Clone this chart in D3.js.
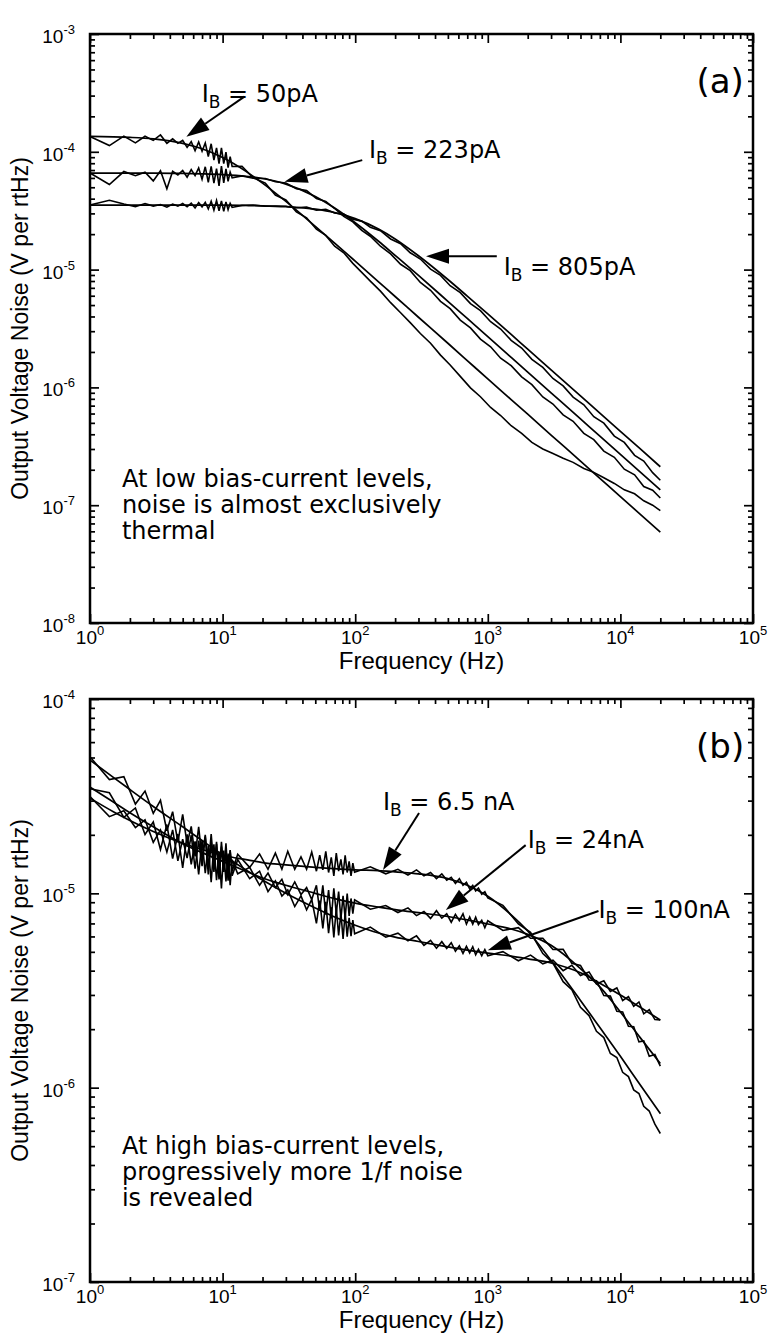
<!DOCTYPE html>
<html>
<head>
<meta charset="utf-8">
<script src="https://cdn.jsdelivr.net/npm/d3@7/dist/d3.min.js"></script>
<style>
html,body{margin:0;padding:0;background:#fff;}
svg{display:block;}
</style>
</head>
<body>
<svg id="chart" width="771" height="1337"></svg>
<script>
// ---------------- DATA ----------------
const xTickExps = [0, 1, 2, 3, 4, 5];
const yTickExpsA = [-8, -7, -6, -5, -4, -3];
const yTickExpsB = [-7, -6, -5, -4];

// Panel (a): measured spectra (Hz, V/rtHz)
const freqA = [1,1.4,1.8,2.2,2.6,3,3.4,3.8,4.2,4.6,5,5.4,5.8,6.2,6.6,7,7.4,7.8,8.2,8.6,9,9.4,9.8,10.2,10.6,11,11.4,11.8,
  14,17,21,25,30,36,43,51,60,70,82,96,
  112,130,155,185,220,260,310,370,440,520,620,740,880,
  1050,1250,1500,1800,2150,2600,3100,3700,4400,5300,6300,7500,9000,10700,12800,15000,17500,20000];
const noisyA50 = [1.35e-4,1.13e-4,1.36e-4,1.19e-4,1.355e-4,1.25e-4,1.39e-4,1.18e-4,1.29e-4,1.18e-4,1.25e-4,1.09e-4,1.22e-4,1.02e-4,1.21e-4,1.01e-4,1.19e-4,9.12e-5,1.17e-4,8.51e-5,1.08e-4,7.95e-5,1.08e-4,7.95e-5,9.92e-5,7.34e-5,9.08e-5,7.51e-5,
  7.54e-5,6.01e-5,5.42e-5,4.29e-5,3.90e-5,3.09e-5,2.75e-5,2.20e-5,1.95e-5,1.58e-5,1.39e-5,1.13e-5,
  9.48e-6,7.99e-6,6.56e-6,5.24e-6,4.30e-6,3.55e-6,2.87e-6,2.37e-6,1.88e-6,1.55e-6,1.24e-6,9.91e-7,8.33e-7,
  6.76e-7,5.77e-7,4.73e-7,4.07e-7,3.41e-7,3.00e-7,2.75e-7,2.50e-7,2.31e-7,2.05e-7,1.90e-7,1.71e-7,1.53e-7,1.35e-7,1.25e-7,1.09e-7,1.00e-7,9.0e-8];
const noisyA223 = [6.60e-5,5.28e-5,6.80e-5,6.26e-5,6.72e-5,5.66e-5,6.91e-5,4.86e-5,6.83e-5,6.36e-5,6.94e-5,6.08e-5,7.05e-5,6.27e-5,7.30e-5,5.85e-5,7.46e-5,5.51e-5,7.51e-5,5.43e-5,7.21e-5,5.14e-5,7.56e-5,5.44e-5,7.15e-5,5.61e-5,6.73e-5,6.02e-5,
  6.24e-5,5.97e-5,5.93e-5,5.57e-5,5.43e-5,4.85e-5,4.69e-5,4.01e-5,3.79e-5,3.30e-5,2.83e-5,2.54e-5,
  2.15e-5,1.92e-5,1.58e-5,1.36e-5,1.11e-5,9.79e-6,7.77e-6,6.67e-6,5.38e-6,4.66e-6,3.73e-6,3.20e-6,2.57e-6,
  2.21e-6,1.77e-6,1.53e-6,1.23e-6,1.055e-6,8.30e-7,7.23e-7,5.84e-7,5.16e-7,4.07e-7,3.60e-7,2.88e-7,2.55e-7,2.02e-7,1.81e-7,1.44e-7,1.34e-7,1.15e-7];
const noisyA805 = [3.53e-5,3.88e-5,3.60e-5,3.42e-5,3.64e-5,3.46e-5,3.57e-5,3.39e-5,3.60e-5,3.46e-5,3.64e-5,3.41e-5,3.66e-5,3.34e-5,3.70e-5,3.41e-5,3.73e-5,3.27e-5,3.80e-5,3.20e-5,3.86e-5,3.16e-5,3.83e-5,3.12e-5,3.76e-5,3.23e-5,3.65e-5,3.37e-5,
  3.51e-5,3.53e-5,3.45e-5,3.46e-5,3.45e-5,3.35e-5,3.39e-5,3.19e-5,3.25e-5,3.02e-5,2.97e-5,2.68e-5,
  2.58e-5,2.29e-5,2.14e-5,1.82e-5,1.66e-5,1.39e-5,1.23e-5,1.01e-5,8.92e-6,7.30e-6,6.37e-6,5.14e-6,4.48e-6,
  3.61e-6,3.13e-6,2.51e-6,2.16e-6,1.73e-6,1.48e-6,1.19e-6,1.03e-6,8.28e-7,7.11e-7,5.64e-7,4.97e-7,3.86e-7,3.41e-7,2.65e-7,2.37e-7,1.89e-7,1.63e-7];

// Panel (a): fitted curves
const fitFreqA = [1,2,3,5,7,10,15,20,30,50,70,100,150,200,300,500,700,1000,1500,2000,3000,5000,7000,10000,14000,20000];
const fitA50 = [1.351e-4,1.325e-4,1.286e-4,1.179e-4,1.06e-4,8.93e-5,6.82e-5,5.42e-5,3.79e-5,2.33e-5,1.68e-5,1.18e-5,7.87e-6,5.91e-6,3.94e-6,2.37e-6,1.69e-6,1.18e-6,7.89e-7,5.92e-7,3.94e-7,2.37e-7,1.69e-7,1.18e-7,8.45e-8,5.92e-8];
const fitA223 = [6.6e-5,6.6e-5,6.58e-5,6.55e-5,6.50e-5,6.41e-5,6.20e-5,5.93e-5,5.32e-5,4.18e-5,3.33e-5,2.50e-5,1.74e-5,1.32e-5,8.92e-6,5.38e-6,3.85e-6,2.70e-6,1.80e-6,1.35e-6,9.0e-7,5.4e-7,3.86e-7,2.70e-7,1.93e-7,1.35e-7];
const fitA805 = [3.53e-5,3.53e-5,3.53e-5,3.53e-5,3.52e-5,3.52e-5,3.50e-5,3.48e-5,3.42e-5,3.26e-5,3.05e-5,2.71e-5,2.21e-5,1.82e-5,1.31e-5,8.24e-6,5.96e-6,4.21e-6,2.82e-6,2.11e-6,1.41e-6,8.47e-7,6.05e-7,4.24e-7,3.03e-7,2.12e-7];

// Panel (b): measured spectra
const freqB = [1,1.4,1.8,2.2,2.6,3,3.4,3.8,4.2,4.6,5,5.4,5.8,6.2,6.6,7,7.4,7.8,8.2,8.6,9,9.4,9.8,10.2,10.6,11,11.4,11.8,
  13,16,19,22,25,28,31,35,39,43,47,
  51,54,57,60,63,66,69,72,75,78,81,84,87,90,93,96,99,
  130,170,210,250,290,330,370,410,450,490,530,570,610,650,690,730,770,810,850,900,950,1000,
  1300,1700,2100,2600,3100,3700,4300,5000,5800,6600,7500,8400,9400,10400,11500,12600,13800,15000,16500,18200,20000];
const noisyB65 = [3.15e-5,2.48e-5,2.66e-5,2.18e-5,2.39e-5,1.83e-5,2.12e-5,1.63e-5,2.12e-5,1.47e-5,1.90e-5,1.52e-5,1.99e-5,1.34e-5,1.87e-5,1.38e-5,1.96e-5,1.25e-5,1.83e-5,1.29e-5,1.84e-5,1.18e-5,1.74e-5,1.29e-5,1.81e-5,1.21e-5,1.66e-5,1.30e-5,
  1.59e-5,1.36e-5,1.595e-5,1.33e-5,1.61e-5,1.33e-5,1.645e-5,1.33e-5,1.54e-5,1.33e-5,1.63e-5,
  1.30e-5,1.57e-5,1.32e-5,1.645e-5,1.28e-5,1.53e-5,1.23e-5,1.61e-5,1.30e-5,1.495e-5,1.25e-5,1.57e-5,1.28e-5,1.46e-5,1.23e-5,1.43e-5,1.285e-5,
  1.37e-5,1.26e-5,1.33e-5,1.24e-5,1.32e-5,1.23e-5,1.28e-5,1.19e-5,1.26e-5,1.17e-5,1.21e-5,1.125e-5,1.19e-5,1.10e-5,1.14e-5,1.055e-5,1.10e-5,1.03e-5,1.064e-5,9.9e-6,1.02e-5,9.47e-6,
  8.68e-6,6.96e-6,6.30e-6,4.90e-6,4.38e-6,3.51e-6,3.19e-6,2.59e-6,2.35e-6,1.95e-6,1.81e-6,1.50e-6,1.43e-6,1.20e-6,1.14e-6,9.74e-7,9.33e-7,8.02e-7,7.58e-7,6.49e-7,5.81e-7];
const noisyB24 = [3.45e-5,3.29e-5,2.46e-5,2.75e-5,2.01e-5,2.33e-5,1.68e-5,2.26e-5,1.51e-5,2.02e-5,1.35e-5,2.01e-5,1.41e-5,1.85e-5,1.25e-5,1.88e-5,1.27e-5,1.76e-5,1.14e-5,1.79e-5,1.17e-5,1.64e-5,1.06e-5,1.66e-5,1.15e-5,1.60e-5,1.10e-5,1.49e-5,
  1.26e-5,1.36e-5,1.10e-5,1.27e-5,1.07e-5,1.18e-5,9.86e-6,1.145e-5,9.87e-6,1.07e-5,9.29e-6,
  1.10e-5,8.12e-6,1.10e-5,7.76e-6,1.04e-5,7.43e-6,1.06e-5,7.85e-6,1.02e-5,7.38e-6,9.70e-6,7.46e-6,9.96e-6,7.65e-6,9.41e-6,7.86e-6,9.26e-6,
  8.28e-6,8.65e-6,7.97e-6,8.42e-6,7.68e-6,8.06e-6,7.43e-6,8.14e-6,7.45e-6,7.84e-6,7.10e-6,7.80e-6,7.23e-6,7.84e-6,6.94e-6,7.56e-6,6.93e-6,7.53e-6,6.91e-6,7.27e-6,6.65e-6,7.23e-6,
  6.44e-6,6.66e-6,5.87e-6,5.87e-6,5.14e-6,5.15e-6,4.37e-6,4.26e-6,3.58e-6,3.55e-6,2.98e-6,2.96e-6,2.47e-6,2.45e-6,2.07e-6,2.06e-6,1.72e-6,1.74e-6,1.45e-6,1.48e-6,1.29e-6];
const noisyB100 = [5.04e-5,3.85e-5,3.98e-5,2.88e-5,3.36e-5,2.58e-5,3.01e-5,2.10e-5,2.63e-5,1.83e-5,2.55e-5,1.80e-5,2.21e-5,1.55e-5,2.20e-5,1.50e-5,2.0e-5,1.35e-5,2.02e-5,1.36e-5,1.80e-5,1.21e-5,1.84e-5,1.29e-5,1.64e-5,1.16e-5,1.67e-5,1.23e-5,
  1.49e-5,1.19e-5,1.30e-5,1.02e-5,1.16e-5,9.68e-6,1.04e-5,8.55e-6,9.70e-6,8.23e-6,9.29e-6,
  7.01e-6,9.18e-6,6.60e-6,9.03e-6,6.24e-6,8.47e-6,5.93e-6,8.40e-6,6.08e-6,7.93e-6,5.82e-6,7.92e-6,5.99e-6,7.49e-6,6.02e-6,7.29e-6,6.19e-6,
  6.70e-6,5.95e-6,6.24e-6,5.70e-6,6.04e-6,5.40e-6,5.73e-6,5.22e-6,5.64e-6,5.20e-6,5.57e-6,5.04e-6,5.37e-6,4.91e-6,5.34e-6,4.94e-6,5.31e-6,4.83e-6,5.15e-6,4.77e-6,5.14e-6,4.77e-6,
  5.01e-6,4.50e-6,4.81e-6,4.34e-6,4.53e-6,4.0e-6,4.26e-6,3.78e-6,3.94e-6,3.42e-6,3.55e-6,3.13e-6,3.26e-6,2.81e-6,2.94e-6,2.62e-6,2.76e-6,2.40e-6,2.52e-6,2.24e-6,2.23e-6];

// Panel (b): fitted curves
const fitFreqB = [1,1.5,2,3,5,7,10,15,20,30,50,70,100,150,200,300,500,700,1000,1500,2000,3000,5000,7000,10000,14000,20000];
const fitB65 = [3.09e-5,2.63e-5,2.37e-5,2.08e-5,1.81e-5,1.68e-5,1.57e-5,1.49e-5,1.44e-5,1.40e-5,1.36e-5,1.34e-5,1.32e-5,1.31e-5,1.29e-5,1.26e-5,1.19e-5,1.10e-5,9.66e-6,7.75e-6,6.40e-6,4.51e-6,2.81e-6,2.04e-6,1.45e-6,1.04e-6,7.35e-7];
const fitB24 = [3.52e-5,2.95e-5,2.6e-5,2.2e-5,1.8e-5,1.62e-5,1.46e-5,1.3e-5,1.2e-5,1.1e-5,1.0e-5,9.4e-6,8.9e-6,8.5e-6,8.25e-6,7.95e-6,7.6e-6,7.3e-6,6.95e-6,6.55e-6,6.15e-6,5.4e-6,4.1e-6,3.3e-6,2.45e-6,1.82e-6,1.33e-6];
const fitB100 = [4.85e-5,3.95e-5,3.42e-5,2.8e-5,2.2e-5,1.87e-5,1.58e-5,1.32e-5,1.17e-5,1.0e-5,8.4e-6,7.55e-6,6.85e-6,6.25e-6,5.95e-6,5.65e-6,5.3e-6,5.1e-6,4.92e-6,4.75e-6,4.6e-6,4.38e-6,3.9e-6,3.45e-6,3.0e-6,2.6e-6,2.23e-6];

// Annotations, placed in data units (frequency, voltage)
const annA = [
  {rest:" = 50pA",  at:[6.95,2.65e-4], from:[14.6,2.94e-4], to:[5.33,1.34e-4]},
  {rest:" = 223pA", at:[127,8.8e-5],   from:[113,8.5e-5],   to:[29.3,5.57e-5]},
  {rest:" = 805pA", at:[1319,9.0e-6],  from:[1169,1.30e-5], to:[342,1.30e-5]}
];
const annB = [
  {rest:" = 6.5 nA", at:[162,2.69e-5],  from:[303,2.59e-5],  to:[162,1.32e-5]},
  {rest:" = 24nA",   at:[2000,1.71e-5], from:[1930,1.77e-5], to:[483,8.2e-6]},
  {rest:" = 100nA",  at:[6835,7.46e-6], from:[6835,8.11e-6], to:[1000,5.1e-6]}
];
const noteA = ["At low bias-current levels,", "noise is almost exclusively", "thermal"];
const noteB = ["At high bias-current levels,", "progressively more 1/f noise", "is revealed"];
const xTitle = "Frequency (Hz)";
const yTitle = "Output Voltage Noise (V per rtHz)";

// ---------------- DRAWING ----------------
const FONT_AX = '"Liberation Sans", Arial, Helvetica, sans-serif';
const FONT_AN = '"DejaVu Sans", "Open Sans", sans-serif';
const svg = d3.select("#chart");

const panels = [
  {x0:90, x1:753, y0:34, y1:623, yDom:[1e-8,1e-3], yExps:yTickExpsA, tag:"(a)", tagAt:[5.65e4,3.16e-4],
   meas:[[freqA,noisyA50],[freqA,noisyA223],[freqA,noisyA805]],
   fits:[[fitFreqA,fitA50],[fitFreqA,fitA223],[fitFreqA,fitA805]],
   ann:annA, note:noteA, noteAt:[1.74,1.43e-7]},
  {x0:90, x1:753, y0:699, y1:1282, yDom:[1e-7,1e-4], yExps:yTickExpsB, tag:"(b)", tagAt:[5.65e4,4.97e-5],
   meas:[[freqB,noisyB65],[freqB,noisyB24],[freqB,noisyB100]],
   fits:[[fitFreqB,fitB65],[fitFreqB,fitB24],[fitFreqB,fitB100]],
   ann:annB, note:noteB, noteAt:[1.74,4.55e-7]}
];

function drawPanel(p){
  const x = d3.scaleLog().domain([1,1e5]).range([p.x0,p.x1]);
  const y = d3.scaleLog().domain(p.yDom).range([p.y1,p.y0]);
  const g = svg.append("g");

  const majX = xTickExps.map(e => Math.pow(10,e));
  const minX = [];
  for (let e = xTickExps[0]; e < xTickExps[xTickExps.length-1]; e++)
    for (let m = 2; m <= 9; m++) minX.push(m*Math.pow(10,e));
  const majY = p.yExps.map(e => Math.pow(10,e));
  const minY = [];
  for (let e = p.yExps[0]; e < p.yExps[p.yExps.length-1]; e++)
    for (let m = 2; m <= 9; m++) minY.push(m*Math.pow(10,e));

  const axes = [
    [d3.axisBottom, x, `translate(0,${p.y1})`, true],
    [d3.axisTop, x, `translate(0,${p.y0})`, true],
    [d3.axisLeft, y, `translate(${p.x0},0)`, false],
    [d3.axisRight, y, `translate(${p.x1},0)`, false]
  ];
  axes.forEach(([fn, sc, tr, isX]) => {
    const mj = isX ? majX : majY, mn = isX ? minX : minY;
    [[mn,5],[mj,9]].forEach(([vals,len]) => {
      const ag = g.append("g").attr("transform",tr)
        .call(fn(sc).tickValues(vals).tickSize(-len).tickSizeOuter(0).tickFormat(""));
      ag.select(".domain").remove();
      ag.selectAll(".tick line").attr("stroke","#000").attr("stroke-width",1.7);
    });
  });

  const line = d3.line().x(d => x(d[0])).y(d => y(d[1]));
  p.meas.forEach(([f,v]) => {
    g.append("path").datum(d3.zip(f,v)).attr("d",line)
      .attr("fill","none").attr("stroke","#000").attr("stroke-width",1.6);
  });
  const fitLine = d3.line().x(d => x(d[0])).y(d => y(d[1])).curve(d3.curveMonotoneX);
  p.fits.forEach(([f,v]) => {
    g.append("path").datum(d3.zip(f,v)).attr("d",fitLine)
      .attr("fill","none").attr("stroke","#000").attr("stroke-width",1.7);
  });

  g.append("rect").attr("x",p.x0).attr("y",p.y0).attr("width",p.x1-p.x0).attr("height",p.y1-p.y0)
    .attr("fill","none").attr("stroke","#000").attr("stroke-width",2.5);

  xTickExps.forEach(e => {
    const t = g.append("text").attr("x",x(Math.pow(10,e))).attr("y",p.y1+21)
      .attr("text-anchor","middle")
      .style("font-family",FONT_AX).style("font-size","19px");
    t.append("tspan").text("10");
    t.append("tspan").attr("dy",-9).style("font-size","13px").text(String(e));
  });
  p.yExps.forEach(e => {
    const t = g.append("text").attr("x",p.x0-15).attr("y",y(Math.pow(10,e))+9)
      .attr("text-anchor","end")
      .style("font-family",FONT_AX).style("font-size","19px");
    t.append("tspan").text("10");
    t.append("tspan").attr("dy",-9).style("font-size","13px").text("-" + Math.abs(e));
  });
  g.append("text").attr("x",(p.x0+p.x1)/2).attr("y",p.y1+46).attr("text-anchor","middle")
    .style("font-family",FONT_AX).style("font-size","24px").text(xTitle);
  g.append("text").attr("transform",`translate(28,${(p.y0+p.y1)/2}) rotate(-90)`)
    .attr("text-anchor","middle")
    .style("font-family",FONT_AX).style("font-size","23px").text(yTitle);

  g.append("text").attr("x",x(p.tagAt[0])).attr("y",y(p.tagAt[1])).attr("text-anchor","middle")
    .style("font-family",FONT_AN).style("font-size","34px").text(p.tag);

  p.ann.forEach(a => {
    const t = g.append("text").attr("x",x(a.at[0])).attr("y",y(a.at[1]))
      .style("font-family",FONT_AN).style("font-size","24px");
    t.append("tspan").text("I");
    t.append("tspan").attr("dy",6).style("font-size","17px").text("B");
    t.append("tspan").attr("dy",-6).text(a.rest);
    const xs = x(a.from[0]), ys = y(a.from[1]), xt = x(a.to[0]), yt = y(a.to[1]);
    const dx = xt-xs, dy = yt-ys, L = Math.hypot(dx,dy), ux = dx/L, uy = dy/L;
    const hl = 23, hw = 7.5;
    const bx = xt-ux*hl, by = yt-uy*hl;
    g.append("line").attr("x1",xs).attr("y1",ys).attr("x2",bx).attr("y2",by)
      .attr("stroke","#000").attr("stroke-width",2);
    g.append("path").attr("d",`M${xt},${yt}L${bx-uy*hw},${by+ux*hw}L${bx+uy*hw},${by-ux*hw}Z`)
      .attr("fill","#000");
  });

  const nt = g.append("text").style("font-family",FONT_AN).style("font-size","24px");
  p.note.forEach((s,i) => {
    nt.append("tspan").attr("x",x(p.noteAt[0])).attr("y",y(p.noteAt[1]) + i*26).text(s);
  });
}
panels.forEach(drawPanel);
</script>
</body>
</html>
